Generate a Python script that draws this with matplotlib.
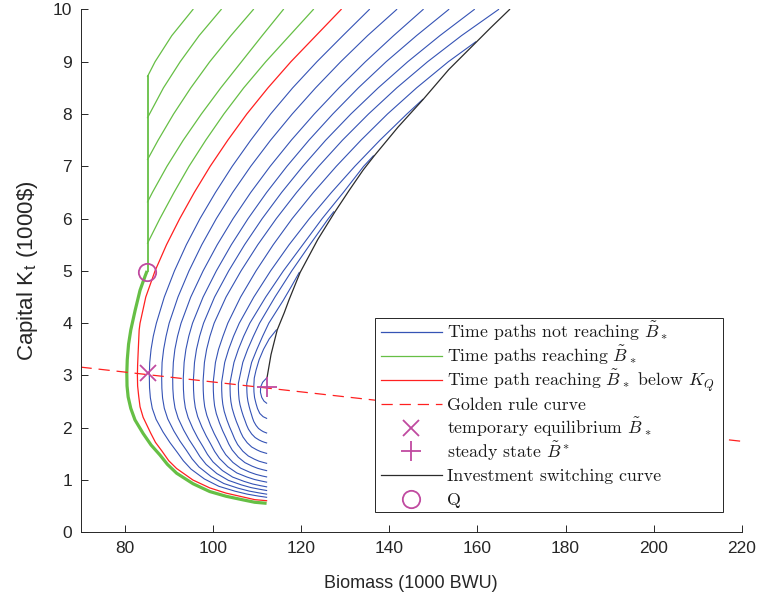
import matplotlib
matplotlib.use("Agg")
import matplotlib.pyplot as plt
from matplotlib.lines import Line2D
from matplotlib.patches import Rectangle

# ---- data (biomass B in 1000 BWU, capital K in 1000$) ----
# blue time paths not reaching B~*, outer -> inner; lower branch (B, K) then upper branch (B, K)
blue_01 = [(112.2, 0.67), (110.34, 0.693), (107.76, 0.731), (105.02, 0.787), (101.37, 0.88), (98.1, 1.02),
           (95.07, 1.208), (93.31, 1.369), (91.9, 1.534), (90.26, 1.719), (88.71, 1.919), (87.14, 2.161),
           (86.27, 2.371), (85.84, 2.574), (85.65, 2.767), (85.6, 3.0),
           (85.7, 3.25), (86.0, 3.5), (86.5, 3.75), (87.2, 4.0), (89.0, 4.5), (91.3, 5.0), (94.0, 5.5),
           (97.1, 6.0), (100.6, 6.5), (104.4, 7.0), (108.6, 7.5), (113.1, 8.0), (118.1, 8.5), (123.6, 9.0),
           (129.5, 9.5), (135.5, 10.0)]
blue_02 = [(112.2, 0.73), (110.53, 0.753), (108.23, 0.789), (105.77, 0.843), (102.51, 0.933), (99.59, 1.068),
           (96.87, 1.25), (95.3, 1.405), (94.04, 1.565), (92.57, 1.743), (91.18, 1.936), (89.78, 2.17),
           (89.0, 2.373), (88.61, 2.568), (88.45, 2.755), (88.4, 2.98),
           (88.5, 3.25), (88.85, 3.5), (89.4, 3.75), (90.1, 4.0), (92.1, 4.5), (94.6, 5.0), (97.5, 5.5),
           (100.8, 6.0), (104.5, 6.5), (108.6, 7.0), (113.1, 7.5), (118.0, 8.0), (123.3, 8.5), (129.0, 9.0),
           (135.1, 9.5), (141.7, 10.0)]
blue_03 = [(112.2, 0.80), (110.71, 0.822), (108.64, 0.856), (106.45, 0.908), (103.53, 0.994), (100.91, 1.124),
           (98.48, 1.299), (97.08, 1.448), (95.95, 1.601), (94.63, 1.772), (93.39, 1.958), (92.14, 2.182),
           (91.43, 2.377), (91.09, 2.565), (90.94, 2.744), (90.9, 2.96),
           (91.05, 3.25), (91.4, 3.5), (92.0, 3.75), (92.8, 4.0), (95.0, 4.5), (97.8, 5.0), (101.0, 5.5),
           (104.6, 6.0), (108.6, 6.5), (113.0, 7.0), (117.8, 7.5), (123.0, 8.0), (128.6, 8.5), (134.6, 9.0),
           (141.0, 9.5), (147.7, 10.0)]
blue_04 = [(112.2, 0.87), (110.88, 0.891), (109.04, 0.924), (107.1, 0.974), (104.51, 1.056), (102.18, 1.181),
           (100.03, 1.348), (98.78, 1.491), (97.78, 1.638), (96.61, 1.802), (95.51, 1.98), (94.4, 2.195),
           (93.77, 2.381), (93.47, 2.561), (93.34, 2.733), (93.3, 2.94),
           (93.5, 3.25), (93.9, 3.5), (94.55, 3.75), (95.4, 4.0), (97.8, 4.5), (100.8, 5.0), (104.2, 5.5),
           (108.0, 6.0), (112.2, 6.5), (116.8, 7.0), (121.8, 7.5), (127.2, 8.0), (133.0, 8.5), (139.3, 9.0),
           (146.2, 9.5), (153.5, 10.0)]
blue_05 = [(112.2, 0.96), (111.04, 0.98), (109.43, 1.011), (107.72, 1.058), (105.44, 1.136), (103.4, 1.254),
           (101.51, 1.413), (100.41, 1.548), (99.53, 1.687), (98.51, 1.842), (97.54, 2.011), (96.56, 2.214),
           (96.02, 2.391), (95.75, 2.561), (95.63, 2.724), (95.6, 2.92),
           (95.85, 3.25), (96.3, 3.5), (97.0, 3.75), (97.9, 4.0), (100.4, 4.5), (103.6, 5.0), (107.2, 5.5),
           (111.2, 6.0), (115.6, 6.5), (120.4, 7.0), (125.6, 7.5), (131.3, 8.0), (137.5, 8.5), (144.2, 9.0),
           (151.5, 9.5), (159.3, 10.0)]
blue_06 = [(112.2, 1.06), (111.19, 1.078), (109.8, 1.108), (108.31, 1.152), (106.34, 1.226), (104.57, 1.336),
           (102.93, 1.485), (101.98, 1.612), (101.21, 1.743), (100.32, 1.888), (99.48, 2.046), (98.64, 2.238),
           (98.16, 2.403), (97.93, 2.563), (97.83, 2.716), (97.8, 2.9),
           (98.1, 3.25), (98.6, 3.5), (99.35, 3.75), (100.3, 4.0), (103.0, 4.5), (106.4, 5.0), (110.2, 5.5),
           (114.4, 6.0), (119.0, 6.5), (124.0, 7.0), (129.4, 7.5), (135.3, 8.0), (141.7, 8.5), (148.7, 9.0),
           (156.4, 9.5), (164.8, 10.0)]
blue_07 = [(112.2, 1.18), (111.35, 1.197), (110.18, 1.224), (108.93, 1.265), (107.28, 1.333), (105.79, 1.435),
           (104.41, 1.573), (103.61, 1.69), (102.97, 1.811), (102.22, 1.945), (101.52, 2.091), (100.8, 2.268),
           (100.4, 2.421), (100.21, 2.569), (100.12, 2.71), (100.1, 2.88),
           (100.6, 3.25), (101.3, 3.5), (102.3, 3.75), (103.4, 4.0), (106.3, 4.5), (109.8, 5.0), (113.7, 5.5),
           (118.0, 6.0), (122.8, 6.5), (128.0, 7.0), (133.6, 7.5), (139.6, 8.0), (146.2, 8.5), (153.4, 9.0),
           (159.6, 9.38)]
blue_08 = [(112.2, 1.32), (111.49, 1.336), (110.5, 1.36), (109.45, 1.398), (108.05, 1.46), (106.79, 1.553),
           (105.63, 1.678), (104.96, 1.785), (104.42, 1.895), (103.79, 2.018), (103.19, 2.151), (102.59, 2.312),
           (102.26, 2.452), (102.09, 2.586), (102.02, 2.715), (102.0, 2.87),
           (102.7, 3.25), (103.6, 3.5), (104.7, 3.75), (106.0, 4.0), (109.3, 4.5), (113.1, 5.0), (117.3, 5.5),
           (121.9, 6.0), (126.9, 6.5), (132.2, 7.0), (137.9, 7.5), (144.0, 8.0), (147.6, 8.28)]
blue_09 = [(112.2, 1.51), (111.62, 1.524), (110.81, 1.545), (109.96, 1.578), (108.82, 1.632), (107.8, 1.713),
           (106.85, 1.822), (106.31, 1.915), (105.87, 2.011), (105.35, 2.118), (104.87, 2.234), (104.38, 2.374),
           (104.11, 2.496), (103.97, 2.613), (103.92, 2.725), (103.9, 2.86),
           (104.8, 3.25), (105.8, 3.5), (107.0, 3.75), (108.4, 4.0), (112.0, 4.5), (116.0, 5.0), (120.4, 5.5),
           (124.8, 6.0), (129.6, 6.5), (134.2, 7.0), (136.4, 7.2)]
blue_10 = [(112.2, 1.71), (111.75, 1.721), (111.13, 1.74), (110.47, 1.767), (109.6, 1.813), (108.81, 1.881),
           (108.08, 1.973), (107.66, 2.052), (107.32, 2.133), (106.92, 2.223), (106.55, 2.321), (106.17, 2.44),
           (105.96, 2.542), (105.86, 2.641), (105.81, 2.736), (105.8, 2.85),
           (106.8, 3.25), (107.9, 3.5), (109.2, 3.75), (110.6, 4.0), (114.1, 4.5), (117.9, 5.0), (122.0, 5.5),
           (126.2, 6.0), (127.4, 6.13)]
blue_11 = [(112.2, 1.9), (111.89, 1.91), (111.45, 1.925), (110.99, 1.948), (110.37, 1.986), (109.82, 2.043),
           (109.3, 2.119), (109.01, 2.185), (108.77, 2.252), (108.49, 2.328), (108.23, 2.409), (107.96, 2.508),
           (107.81, 2.594), (107.74, 2.676), (107.71, 2.755), (107.7, 2.85),
           (108.8, 3.25), (110.0, 3.5), (111.3, 3.75), (112.7, 4.0), (116.0, 4.44), (117.8, 4.7), (119.6, 4.97)]
blue_12 = [(112.2, 2.18), (111.42, 2.211), (110.66, 2.273), (110.14, 2.366), (109.81, 2.459), (109.47, 2.577),
           (109.33, 2.687), (109.3, 2.8),
           (109.4, 2.95), (109.8, 3.1), (110.5, 3.3), (111.5, 3.5), (112.8, 3.7), (114.4, 3.87)]
blue_13 = [(112.2, 2.47), (111.6, 2.51), (111.1, 2.58), (110.8, 2.68), (110.85, 2.78), (111.3, 2.87), (112.3, 2.96)]
blue_paths = [blue_01, blue_02, blue_03, blue_04, blue_05, blue_06, blue_07,
              blue_08, blue_09, blue_10, blue_11, blue_12, blue_13]

# thick green path that reaches Q, then the vertical segment at B~*
green_main = [(112.2, 0.555), (109.5, 0.575), (106.9, 0.62), (103.0, 0.69), (99.3, 0.78), (95.5, 0.93),
              (91.8, 1.13), (89.7, 1.3), (88.0, 1.48), (86.0, 1.67), (84.2, 1.89), (82.35, 2.15), (81.4, 2.37),
              (80.8, 2.59), (80.55, 2.8), (80.5, 3.04), (80.6, 3.3), (80.9, 3.6), (81.4, 3.87), (82.4, 4.25),
              (83.5, 4.63), (84.6, 4.89), (85.1, 5.0)]
green_vertical = [(85.2, 5.0), (85.2, 8.72)]
# green branches leaving the vertical segment
green_01 = [(85.2, 8.72), (86.9, 9.0), (90.7, 9.5), (95.5, 10.0)]
green_02 = [(85.2, 7.93), (88.8, 8.5), (92.6, 9.0), (96.9, 9.5), (101.9, 10.0)]
green_03 = [(85.2, 7.13), (87.6, 7.5), (91.1, 8.0), (95.0, 8.5), (99.3, 9.0), (104.1, 9.5), (109.2, 10.0)]
green_04 = [(85.2, 6.32), (86.3, 6.5), (89.6, 7.0), (93.3, 7.5), (97.4, 8.0), (101.8, 8.5), (106.5, 9.0),
            (111.2, 9.5), (116.0, 10.0)]
green_05 = [(85.2, 5.53), (88.0, 6.0), (91.2, 6.5), (94.6, 7.0), (98.4, 7.5), (102.5, 8.0), (107.0, 8.5),
            (112.0, 9.0), (117.4, 9.5), (122.8, 10.0)]
green_branches = [green_01, green_02, green_03, green_04, green_05]

red_path = [(112.2, 0.605), (109.5, 0.625), (106.9, 0.675), (103.0, 0.75), (99.3, 0.85), (95.5, 1.0),
            (91.8, 1.22), (90.0, 1.37), (88.5, 1.55), (87.0, 1.72), (85.9, 1.9), (84.2, 2.2), (83.5, 2.4),
            (83.2, 2.6), (82.95, 2.8), (82.9, 3.0), (82.95, 3.2), (83.05, 3.4), (83.3, 3.87), (83.5, 4.0),
            (84.8, 4.5), (86.9, 5.0), (89.5, 5.5), (92.5, 6.0), (95.8, 6.5), (99.4, 7.0), (103.4, 7.5),
            (107.7, 8.0), (112.5, 8.5), (117.7, 9.0), (123.4, 9.5), (129.1, 10.0)]

golden_b = [70, 220]
golden_k = [3.16, 1.74]

switch_b = [112.3, 113.2, 114.6, 116.2, 117.3, 119.8, 123.8, 127.7, 131.0, 134.1, 136.6,
            142.0, 147.7, 153.5, 159.8, 163.0, 167.3]
switch_k = [2.96, 3.4, 3.87, 4.2, 4.45, 4.97, 5.6, 6.13, 6.55, 6.93, 7.2,
            7.75, 8.28, 8.85, 9.38, 9.65, 10.0]

temp_eq = (85.4, 3.04)
steady = (112.2, 2.77)
point_q = (85.0, 4.98)

legend_labels = [
    r"Time paths not reaching $\tilde{B}_*$",
    r"Time paths reaching $\tilde{B}_*$",
    r"Time path reaching $\tilde{B}_*$ below $K_Q$",
    "Golden rule curve",
    r"temporary equilibrium $\tilde{B}_*$",
    r"steady state $\tilde{B}^*$",
    "Investment switching curve",
    "Q",
]

# ---- styling ----
BLUE = "#3553b5"
GREEN = "#66bf45"
RED = "#ff2020"
BLACK = "#2b2b2b"
MAGENTA = "#c04aa0"
AX_COLOR = "#262626"
DASH = (0, (9, 5.5))

plt.rcParams["mathtext.fontset"] = "cm"
plt.rcParams["font.family"] = ["Liberation Sans", "DejaVu Sans"]

fig = plt.figure(figsize=(7.61, 6.0), dpi=100)
ax = fig.add_axes([0.1058, 0.1128, 0.8692, 0.8714])


def draw(path, **kw):
    b = [p[0] for p in path]
    k = [p[1] for p in path]
    ax.plot(b, k, **kw)


for path in blue_paths:
    draw(path, color=BLUE, lw=0.8)
for path in green_branches:
    draw(path, color=GREEN, lw=0.9)
draw(green_vertical, color=GREEN, lw=1.3)
draw(green_main, color=GREEN, lw=2.3, solid_capstyle="butt")
draw(red_path, color=RED, lw=0.9)
ax.plot(switch_b, switch_k, color=BLACK, lw=0.9)
ax.plot(golden_b, golden_k, color=RED, lw=0.9, linestyle=DASH)
ax.plot(*temp_eq, marker="x", ms=11, mew=1.3, color=MAGENTA, ls="none")
ax.plot(*steady, marker="+", ms=15, mew=1.3, color=MAGENTA, ls="none")
ax.plot(*point_q, marker="o", ms=12.5, mew=1.3, mfc="none", color=MAGENTA, ls="none")

ax.set_xlim(70, 220)
ax.set_ylim(0, 10)
ax.set_xticks(range(80, 221, 20))
ax.set_yticks(range(0, 11))
for side in ("top", "right"):
    ax.spines[side].set_visible(False)
for side in ("left", "bottom"):
    ax.spines[side].set_color(AX_COLOR)
    ax.spines[side].set_linewidth(0.7)
ax.tick_params(direction="in", length=5, width=0.7, colors=AX_COLOR, labelsize=12.5, pad=6)
ax.set_xlabel("Biomass (1000 BWU)", fontsize=13, color=AX_COLOR, labelpad=14)
ax.set_ylabel(r"Capital K$_\mathregular{t}$ (1000\$)", fontsize=16, color=AX_COLOR, labelpad=9)

# legend drawn by hand (MATLAB-like: evenly spaced rows, square box)
legend_styles = [
    dict(color=BLUE, lw=0.9),
    dict(color=GREEN, lw=0.9),
    dict(color=RED, lw=0.9),
    dict(color=RED, lw=0.9, linestyle=DASH),
    dict(color=MAGENTA, marker="x", ms=11, mew=1.3),
    dict(color=MAGENTA, marker="+", ms=15, mew=1.3),
    dict(color=BLACK, lw=0.9),
    dict(color=MAGENTA, marker="o", ms=12.5, mew=1.3, mfc="none"),
]
box_x0, box_x1 = 0.4452, 0.9713
box_y0, box_y1 = 0.0388, 0.4099
row_top, row_step = 0.3826, 0.0456
line_x0, line_x1, mark_x, text_x = 0.4543, 0.5461, 0.4996, 0.5545

ax.add_patch(Rectangle((box_x0, box_y0), box_x1 - box_x0, box_y1 - box_y0, transform=ax.transAxes,
                       facecolor="white", edgecolor=AX_COLOR, lw=0.7, zorder=5))
for i, (style, label) in enumerate(zip(legend_styles, legend_labels)):
    y = row_top - i * row_step
    if "marker" in style:
        ax.add_line(Line2D([mark_x], [y], transform=ax.transAxes, ls="none", zorder=6, **style))
    else:
        ax.add_line(Line2D([line_x0, line_x1], [y, y], transform=ax.transAxes, zorder=6, **style))
    ax.text(text_x, y - 0.0115, label, transform=ax.transAxes, ha="left", va="baseline",
            family="cmr10", fontsize=12.8, color="#1a1a1a", zorder=6)

fig.savefig("out.png", dpi=100)
